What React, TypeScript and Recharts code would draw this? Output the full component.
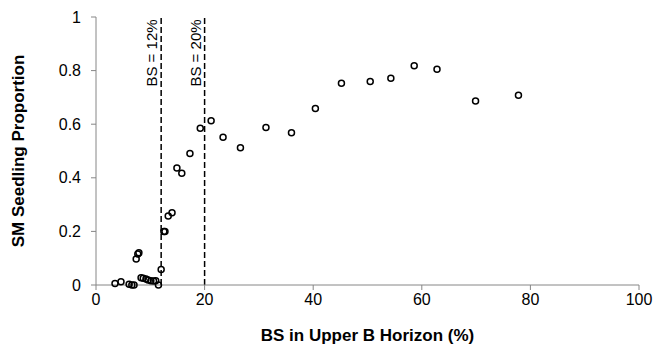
import { ScatterChart, Scatter, XAxis, YAxis, ReferenceLine, Label } from "recharts";

const bsValues = [
  3.5, 4.6, 6.1, 6.6, 7.0, 7.4, 7.7, 7.9, 8.3, 8.7, 9.2, 9.6, 10.1, 10.6, 11.0, 11.5,
  12.0, 12.5, 12.7, 13.3, 14.0, 14.9, 15.8, 17.3, 19.2, 21.2, 23.4, 26.6, 31.3, 36.0,
  40.4, 45.2, 50.5, 54.3, 58.6, 62.8, 69.9, 77.8,
];
const smProportion = [
  0.006, 0.012, 0.003, 0.0, 0.0, 0.097, 0.116, 0.12, 0.027, 0.025, 0.022, 0.019, 0.016,
  0.015, 0.016, 0.0, 0.058, 0.2, 0.2, 0.257, 0.27, 0.437, 0.417, 0.491, 0.585, 0.613,
  0.551, 0.512, 0.588, 0.568, 0.659, 0.753, 0.759, 0.771, 0.818, 0.805, 0.687, 0.708,
];
const xTicks = [0, 20, 40, 60, 80, 100];
const yTicks = [0, 0.2, 0.4, 0.6, 0.8, 1];
const thresholds = [12, 20];

const data = bsValues.map((x, i) => ({ x, y: smProportion[i] }));

const font = "'Liberation Sans', Arial, sans-serif";

const OpenCircle = (props: any) => (
  <circle cx={props.cx} cy={props.cy} r={3} fill="none" stroke="#000" strokeWidth={1.5} />
);

const ThresholdLabel = (props: any) => {
  const { viewBox, value } = props;
  const x = viewBox.x - 4;
  const y = viewBox.y + 36;
  return (
    <text
      transform={`translate(${x}, ${y}) rotate(-90)`}
      textAnchor="middle"
      fontSize={15}
      fontFamily={font}
      fill="#000"
    >
      {value}
    </text>
  );
};

export default function App() {
  return (
    <div style={{ position: "absolute", left: 0, top: 0 }}>
      <ScatterChart
        width={654}
        height={344}
        margin={{ top: 17, right: 15, bottom: 0, left: 0 }}
      >
        <XAxis
          type="number"
          dataKey="x"
          domain={[0, 100]}
          ticks={xTicks}
          height={59}
          stroke="#868686"
          tickLine={{ stroke: "#868686" }}
          tickSize={5}
          tickMargin={4}
          tick={{ fill: "#000", fontSize: 16, fontFamily: font }}
        >
          <Label
            value="BS in Upper B Horizon (%)"
            position="insideBottom"
            offset={3}
            style={{ fontSize: 17, fontWeight: "bold", fontFamily: font, fill: "#000" }}
          />
        </XAxis>
        <YAxis
          type="number"
          dataKey="y"
          domain={[0, 1]}
          ticks={yTicks}
          width={96}
          stroke="#868686"
          tickLine={{ stroke: "#868686" }}
          tickSize={5}
          tickMargin={10}
          tick={{ fill: "#000", fontSize: 16, fontFamily: font }}
        >
          <Label
            value="SM Seedling Proportion"
            angle={-90}
            position="insideLeft"
            offset={18}
            style={{
              fontSize: 17,
              fontWeight: "bold",
              fontFamily: font,
              fill: "#000",
              textAnchor: "middle",
            }}
          />
        </YAxis>
        {thresholds.map((t) => (
          <ReferenceLine
            key={t}
            x={t}
            stroke="#000"
            strokeWidth={1.5}
            strokeDasharray="6 3"
            label={<ThresholdLabel value={`BS = ${t}%`} />}
          />
        ))}
        <Scatter data={data} shape={OpenCircle} isAnimationActive={false} />
      </ScatterChart>
    </div>
  );
}
